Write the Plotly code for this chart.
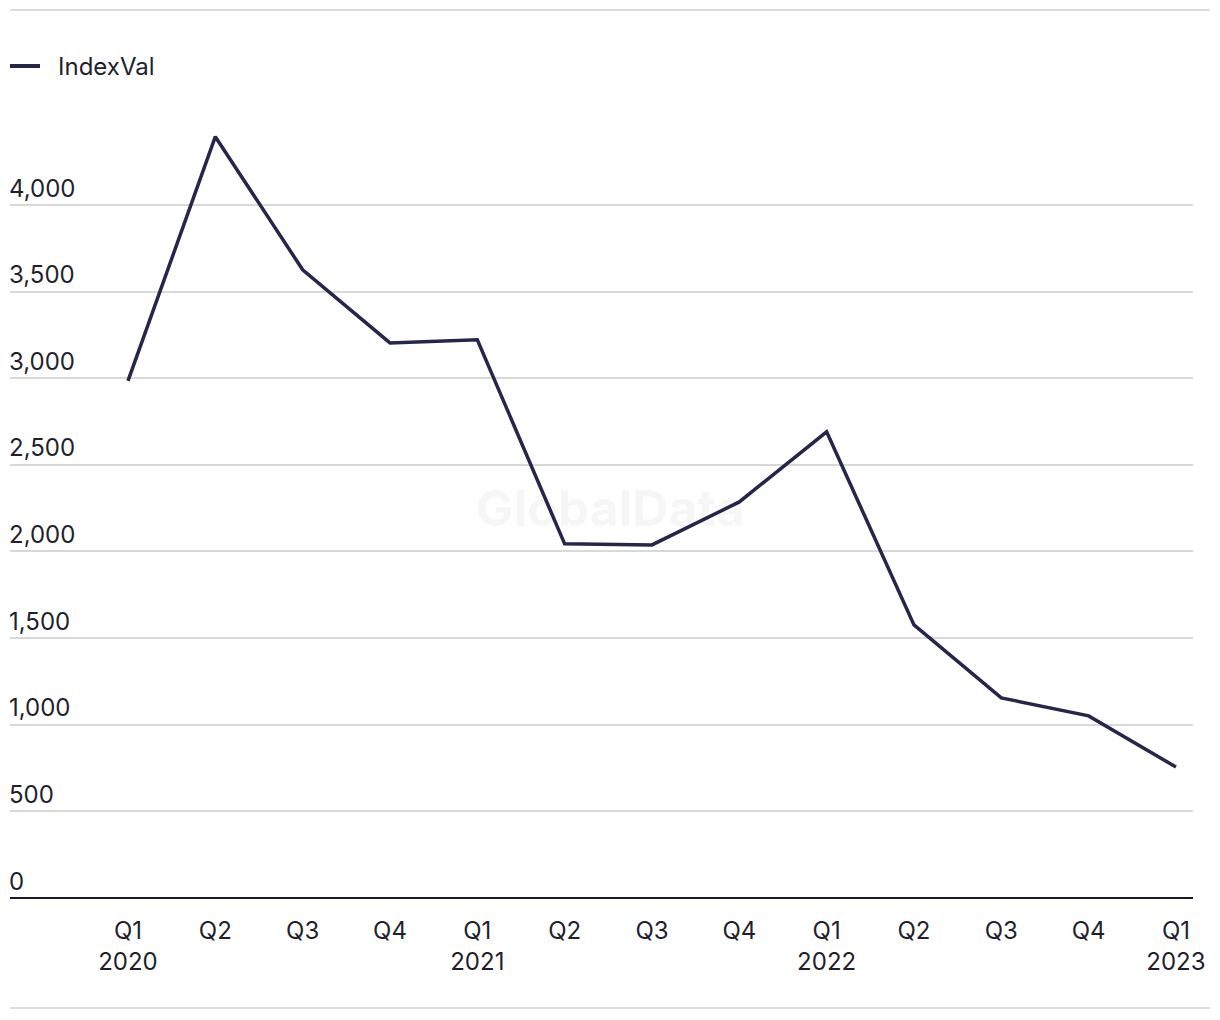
import plotly.graph_objects as go

quarters = ["Q1<br>2020", "Q2", "Q3", "Q4", "Q1<br>2021", "Q2", "Q3", "Q4",
            "Q1<br>2022", "Q2", "Q3", "Q4", "Q1<br>2023"]
index_val = [2985, 4394, 3626, 3204, 3222, 2044, 2038, 2286, 2691, 1576, 1155, 1051, 756]
y_ticks = [0, 500, 1000, 1500, 2000, 2500, 3000, 3500, 4000]
y_labels = ["0", "500", "1,000", "1,500", "2,000", "2,500", "3,000", "3,500", "4,000"]

xpos = list(range(len(quarters)))
FONT = "Inter, Liberation Sans, Arial, sans-serif"
TEXT = "#1f1f2e"
LINE = "#25264a"

# plot area geometry (figure px)
L, R, T, B = 2, 35, 110, 130
PW = 1220 - L - R
PH = 1020 - T - B

def px(fx):
    return (fx - L) / PW

def py(fy):
    return (1020 - B - fy) / PH

fig = go.Figure()
fig.add_trace(go.Scatter(
    x=xpos, y=index_val, mode="lines", name="IndexVal",
    line=dict(color=LINE, width=3.5), showlegend=False,
))

fig.update_layout(
    width=1220, height=1020,
    margin=dict(l=L, r=R, t=T, b=B, autoexpand=False),
    paper_bgcolor="white", plot_bgcolor="white",
    font=dict(family=FONT, size=24, color=TEXT),
    showlegend=False,
    xaxis=dict(
        range=[-1.351, 12.195], tickvals=xpos, ticktext=quarters,
        showgrid=False, zeroline=False, showline=False, ticks="",
        tickfont=dict(size=24, color=TEXT), ticklabelstandoff=16,
    ),
    yaxis=dict(
        range=[0, 4502], tickvals=y_ticks, ticktext=y_labels,
        showgrid=True, gridcolor="#d9d9d9", gridwidth=1.5,
        zeroline=True, zerolinecolor="#1a1a2e", zerolinewidth=2,
        showline=False, ticks="", ticklabelposition="inside top",
        tickfont=dict(size=24, color=TEXT), ticklabelstandoff=-4,
    ),
    shapes=[
        dict(type="line", xref="paper", yref="paper", x0=0, x1=px(1202),
             y0=py(2), y1=py(2), line=dict(color="#dcdcdc", width=2)),
        dict(type="line", xref="paper", yref="paper", x0=0, x1=px(1202),
             y0=py(1000), y1=py(1000), line=dict(color="#dcdcdc", width=2)),
        # legend swatch
        dict(type="line", xref="paper", yref="paper", x0=px(2), x1=px(32),
             y0=py(58), y1=py(58), line=dict(color=LINE, width=4)),
    ],
    annotations=[
        dict(text="IndexVal", xref="paper", yref="paper", x=px(48), y=py(58),
             xanchor="left", yanchor="middle", showarrow=False,
             font=dict(size=24, color=TEXT)),
        dict(text="<b>GlobalData</b>", xref="paper", yref="paper",
             x=px(602), y=py(500), showarrow=False,
             font=dict(size=50, color="rgba(0,0,0,0.035)", family=FONT)),
    ],
)

fig.write_html("out.html")
